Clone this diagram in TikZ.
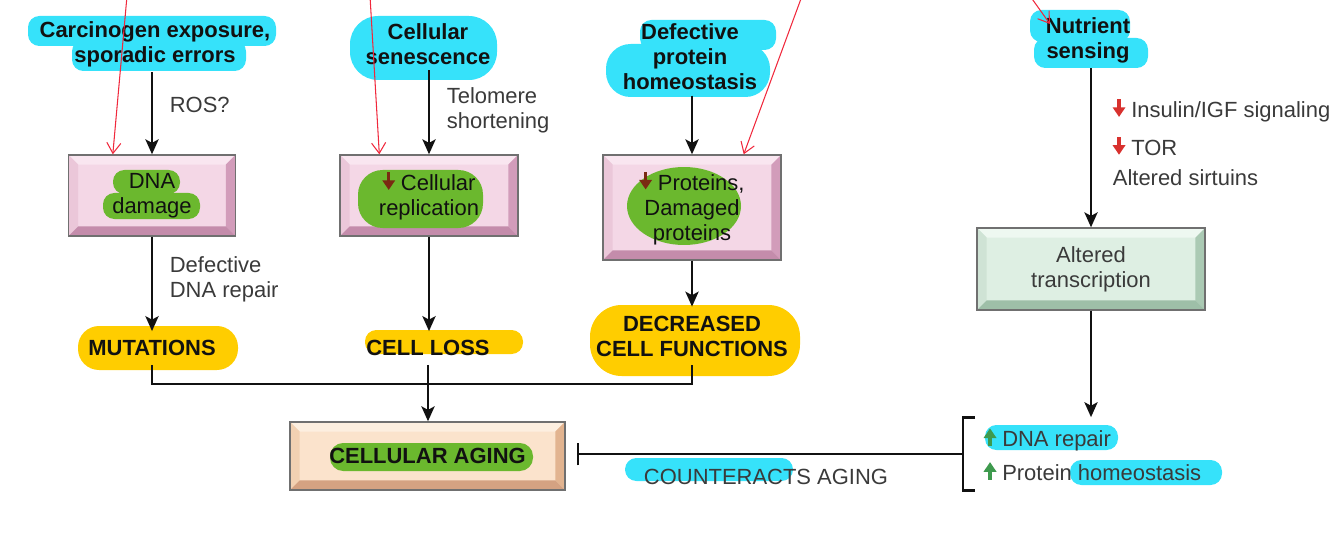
\documentclass[tikz,border=0pt]{standalone}
\usepackage{fontspec}
\setmainfont{Liberation Sans}
\usetikzlibrary{arrows.meta,calc,positioning}
\definecolor{Ink}{HTML}{111111}
\definecolor{LabelGray}{HTML}{3A3A3A}
\definecolor{EdgeGray}{HTML}{707070}
\definecolor{PinkFace}{HTML}{F4D7E6}
\definecolor{PinkTop}{HTML}{F9E6F0}
\definecolor{PinkSide}{HTML}{EBC7D9}
\definecolor{PinkDark}{HTML}{D29CBA}
\definecolor{PinkDeep}{HTML}{C48CAB}
\definecolor{SandFace}{HTML}{FBE3CC}
\definecolor{SandTop}{HTML}{FDEFE0}
\definecolor{SandSide}{HTML}{F2D1B2}
\definecolor{SandDark}{HTML}{E2B490}
\definecolor{SandDeep}{HTML}{D4A282}
\definecolor{MintFace}{HTML}{DEEFE3}
\definecolor{MintTop}{HTML}{EEF8F1}
\definecolor{MintSide}{HTML}{CFE3D5}
\definecolor{MintDark}{HTML}{ABCAB4}
\definecolor{MintDeep}{HTML}{9EBFA8}
\definecolor{HiCyan}{HTML}{36E2FA}
\definecolor{HiYellow}{HTML}{FFCD00}
\definecolor{HiGreen}{HTML}{6BB82E}
\definecolor{MarkRed}{HTML}{F0283C}
\definecolor{DownRed}{HTML}{D8312E}
\definecolor{DarkRed}{HTML}{7A2A12}
\definecolor{UpGreen}{HTML}{3E9A4E}
\newlength{\bevW}\setlength{\bevW}{5.5pt}
% bevelled face: top, left, right, bottom
\newcommand{\bevelFill}[4]{%
  \coordinate (bsw) at (path picture bounding box.south west);
  \coordinate (bne) at (path picture bounding box.north east);
  \coordinate (bnw) at (bsw|-bne);
  \coordinate (bse) at (bne|-bsw);
  \fill[#1] (bnw) -- (bne) -- ([shift={(-\bevW,-\bevW)}]bne) -- ([shift={(\bevW,-\bevW)}]bnw) -- cycle;
  \fill[#2] (bnw) -- (bsw) -- ([shift={(\bevW,\bevW)}]bsw) -- ([shift={(\bevW,-\bevW)}]bnw) -- cycle;
  \fill[#3] (bne) -- (bse) -- ([shift={(-\bevW,\bevW)}]bse) -- ([shift={(-\bevW,-\bevW)}]bne) -- cycle;
  \fill[#4] (bsw) -- (bse) -- ([shift={(-\bevW,\bevW)}]bse) -- ([shift={(\bevW,\bevW)}]bsw) -- cycle;
}
\newcommand{\dnArrow}[1][DownRed]{\tikz[baseline=-0.5pt]\draw[#1,line width=2pt,-{Triangle[length=5.5pt,width=7pt]}] (0pt,10pt) -- (0pt,0pt);}
\newcommand{\upArrow}[1][UpGreen]{\tikz[baseline=-0.5pt]\draw[#1,line width=2pt,-{Triangle[length=5.5pt,width=7pt]}] (0pt,0pt) -- (0pt,10pt);}
\tikzset{
  causeText/.style={font=\bfseries\fontsize{12.5}{14.2}\selectfont,text=Ink,align=center,inner sep=3pt},
  outcomeText/.style={causeText,inner sep=5pt},
  noteText/.style={font=\fontsize{12.5}{14.2}\selectfont,text=LabelGray,align=left,inner sep=2pt},
  boxText/.style={font=\fontsize{12.5}{14.2}\selectfont,text=Ink,align=center,inner sep=0pt},
  bevelBox/.style={rectangle,draw=EdgeGray,line width=0.8pt,inner sep=0pt},
  pinkBox/.style={bevelBox,fill=PinkFace,path picture={\bevelFill{PinkTop}{PinkSide}{PinkDark}{PinkDeep}}},
  sandBox/.style={bevelBox,fill=SandFace,path picture={\bevelFill{SandTop}{SandSide}{SandDark}{SandDeep}}},
  mintBox/.style={bevelBox,fill=MintFace,path picture={\bevelFill{MintTop}{MintSide}{MintDark}{MintDeep}}},
  flow/.style={-{Stealth[length=8.5pt,width=7.5pt,inset=2pt]},draw=Ink,line width=1.3pt},
  joinLine/.style={draw=Ink,line width=1.3pt},
  inhibit/.style={-{Bar[width=13pt,line width=1.5pt]},draw=Ink,line width=1.3pt},
  bracket/.style={draw=Ink,line width=1.6pt},
  markArrow/.style={-{Straight Barb[length=6pt,width=8pt]},draw=MarkRed,line width=0.6pt},
  hiCyan/.style={fill=HiCyan,rounded corners=6.5pt},
  hiYellow/.style={fill=HiYellow,rounded corners=6.5pt},
  hiGreen/.style={fill=HiGreen,rounded corners=6.5pt}
}
\begin{document}
\begin{tikzpicture}[x=0.02cm,y=-0.02cm]
  \useasboundingbox (0,0) rectangle (1334,547);
  % highlighter on the free texts
  \fill[hiCyan] (28,16) rectangle (276,46);
  \fill[hiCyan] (72,40) rectangle (246,71);
  \fill[hiCyan,rounded corners=16pt] (350,16) rectangle (497,80);
  \fill[hiCyan] (640,20) rectangle (776,50);
  \fill[hiCyan,rounded corners=14pt] (606,44) rectangle (770,97);
  \fill[hiCyan] (1030,10) rectangle (1130,42);
  \fill[hiCyan] (1034,38) rectangle (1148,68);
  \fill[hiYellow,rounded corners=12pt] (78,326) rectangle (238,370);
  \fill[hiYellow] (365,330) rectangle (523,354);
  \fill[hiYellow,rounded corners=18pt] (590,305) rectangle (800,376);
  \fill[hiCyan] (985,425) rectangle (1118,450);
  \fill[hiCyan] (1070,460) rectangle (1222,485);
  \fill[hiCyan] (625,458) rectangle (793,481);
  % causes
  \node[causeText] (carc) at (155,44) {Carcinogen exposure,\\sporadic errors};
  \node[causeText] (senes) at (428,44) {Cellular\\senescence};
  \node[causeText] (homeo) at (690,57) {Defective\\protein\\homeostasis};
  \node[causeText] (nutr) at (1088,40) {Nutrient\\sensing};
  % boxes
  \node[pinkBox,minimum width=3.34cm,minimum height=1.62cm] (dnaBox) at (152,195.5) {};
  \node[pinkBox,minimum width=3.56cm,minimum height=1.62cm] (replBox) at (429,195.5) {};
  \node[pinkBox,minimum width=3.56cm,minimum height=2.1cm] (protBox) at (692,207.5) {};
  \node[mintBox,minimum width=4.56cm,minimum height=1.64cm] (transBox) at (1091,269) {};
  \node[sandBox,minimum width=5.5cm,minimum height=1.36cm] (ageBox) at (427.5,456) {};
  \fill[hiGreen] (113,170) rectangle (180,194);
  \fill[hiGreen] (103,193) rectangle (200,219);
  \fill[hiGreen,rounded corners=14pt] (358,170) rectangle (483,228);
  \fill[HiGreen] (684,206) ellipse [x radius=1.14cm,y radius=0.78cm];
  \fill[hiGreen,rounded corners=7.5pt] (330,443) rectangle (533,471);
  \node[boxText] (dnaText) at (dnaBox) {DNA\\damage};
  \node[boxText] (replText) at (replBox) {\dnArrow[DarkRed] Cellular\\replication};
  \node[boxText] (protText) at (protBox) {\dnArrow[DarkRed] Proteins,\\Damaged\\proteins};
  \node[boxText,text=LabelGray] (transText) at (transBox) {Altered\\transcription};
  \node[boxText,font=\bfseries\fontsize{12.5}{14.2}\selectfont] (ageText) at (ageBox) {CELLULAR AGING};
  % outcomes
  \node[outcomeText] (mutText) at (152,348) {MUTATIONS};
  \node[outcomeText] (lossText) at (428,348) {CELL LOSS};
  \node[outcomeText] (decrText) at (692,336) {DECREASED\\CELL FUNCTIONS};
  % side notes
  \node[noteText,anchor=west] (ros) at (166,105) {ROS?};
  \node[noteText,anchor=west] (telo) at (443,110) {Telomere\\shortening};
  \node[noteText,anchor=west] (repair) at (166,279) {Defective\\DNA repair};
  \node[noteText,anchor=west] (insulin) at (1109,110) {\dnArrow\ Insulin/IGF signaling};
  \node[noteText,anchor=west] (tor) at (1109,146) {\dnArrow\ TOR};
  \node[noteText,anchor=west] (sirt) at (1109,178) {Altered sirtuins};
  \node[noteText,anchor=west,minimum height=1.46cm] (effects) at (980,454) {\upArrow\ DNA repair\\[5pt]\upArrow\ Protein homeostasis};
  \node[noteText,align=center] (counter) at (766,477) {COUNTERACTS AGING};
  % connectors
  \foreach \a/\b in {carc/dnaBox,senes/replBox,homeo/protBox,nutr/transBox}
    \draw[flow] (\b.north |- \a.south) -- (\b.north);
  \foreach \a/\b in {dnaBox/mutText,replBox/lossText,protBox/decrText}
    \draw[flow] (\a.south) -- (\a.south |- \b.north);
  \coordinate (joinPt) at (428,384);
  \draw[joinLine] (mutText.south) |- (joinPt) -| (decrText.south);
  \draw[flow] (lossText.south) -- (lossText.south |- ageBox.north);
  \draw[flow] (transBox.south) -- (transBox.south |- effects.north);
  \draw[bracket] ([xshift=-0.1cm]effects.north west) -- ([xshift=-0.34cm]effects.north west)
    -- ([xshift=-0.34cm]effects.south west) -- ([xshift=-0.1cm]effects.south west);
  \coordinate (barPt) at ([xshift=0.22cm]ageBox.east);
  \draw[inhibit] ([xshift=-0.34cm]effects.west) -- (barPt |- effects.west);
  % red pen marks
  \coordinate (m1) at (127,-4);
  \coordinate (m2) at (370,-4);
  \coordinate (m3) at (802,-4);
  \coordinate (m4) at (1030,-4);
  \coordinate (m4tip) at (1050,24);
  \draw[markArrow] (m1) -- ([xshift=0.9cm]dnaBox.north west);
  \draw[markArrow] (m2) -- ([xshift=0.8cm]replBox.north west);
  \draw[markArrow] (m3) -- ([xshift=-0.76cm]protBox.north east);
  \draw[markArrow] (m4) -- (m4tip);
\end{tikzpicture}
\end{document}
